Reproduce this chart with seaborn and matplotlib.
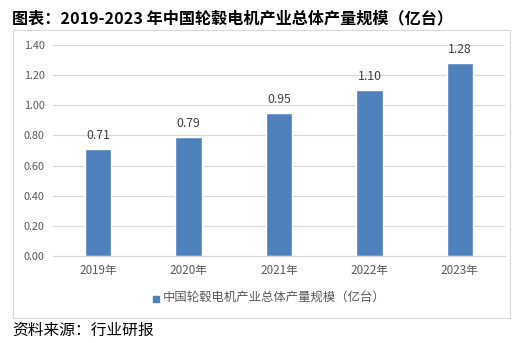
import matplotlib
matplotlib.use("Agg")
import matplotlib.pyplot as plt
import seaborn as sns
import pandas as pd
from matplotlib.patches import Rectangle

years = ["2019年", "2020年", "2021年", "2022年", "2023年"]
values = [0.71, 0.79, 0.95, 1.10, 1.28]
series_name = "中国轮毂电机产业总体产量规模（亿台）"
title = "图表：2019-2023 年中国轮毂电机产业总体产量规模（亿台）"
source = "资料来源：行业研报"
yticks = [0.0, 0.2, 0.4, 0.6, 0.8, 1.0, 1.2, 1.4]

sns.set_style("white")
plt.rcParams['font.family'] = ['Noto Sans CJK SC', 'DejaVu Sans']

W, H = 524, 343
fig = plt.figure(figsize=(W / 100, H / 100), dpi=100)

def fx(px):
    return px / W

def fy(py):
    return 1 - py / H

# outer chart frame
fig.patches.append(Rectangle((fx(13), fy(318)), fx(510) - fx(13), fy(30) - fy(318),
                             transform=fig.transFigure, fill=False,
                             edgecolor="#D9D9D9", linewidth=0.8))

ax = fig.add_axes([fx(53), fy(256), fx(505) - fx(53), fy(45) - fy(256)])
df = pd.DataFrame({"year": years, "value": values, "series": series_name})
sns.barplot(data=df, x="year", y="value", hue="series", palette=["#4F81BD"],
            saturation=1, width=0.29, ax=ax, legend=False)

ax.set_ylim(0, 1.4)
ax.set_yticks(yticks)
ax.set_yticklabels([f"{v:.2f}" for v in yticks], fontsize=7.8, color="#595959")
ax.set_xticklabels(years, fontsize=8.4, color="#595959")
ax.tick_params(axis="both", length=0, pad=6)
ax.tick_params(axis="x", pad=6)
ax.set_xlabel("")
ax.set_ylabel("")
ax.grid(axis="y", color="#D9D9D9", linewidth=0.8)
ax.set_axisbelow(True)
for s in ["top", "right", "left"]:
    ax.spines[s].set_visible(False)
ax.spines["bottom"].set_color("#D9D9D9")
ax.spines["bottom"].set_linewidth(0.8)

for cont in ax.containers:
    ax.bar_label(cont, labels=[f"{v:.2f}" for v in values], padding=5,
                 fontsize=8.8, color="#404040")

# legend
fig.patches.append(Rectangle((fx(153), fy(302)), fx(6), fy(296) - fy(302),
                             transform=fig.transFigure, color="#4F81BD"))
fig.text(fx(163), fy(298.5), series_name, fontsize=8.9, color="#595959",
         va="center", ha="left")

fig.text(fx(12), fy(18), title, fontsize=11.6, fontweight="heavy",
         color="black", va="center", ha="left")
fig.text(fx(12), fy(330), source, fontsize=11.3, color="black",
         va="center", ha="left")

fig.savefig("out.png", dpi=100)
